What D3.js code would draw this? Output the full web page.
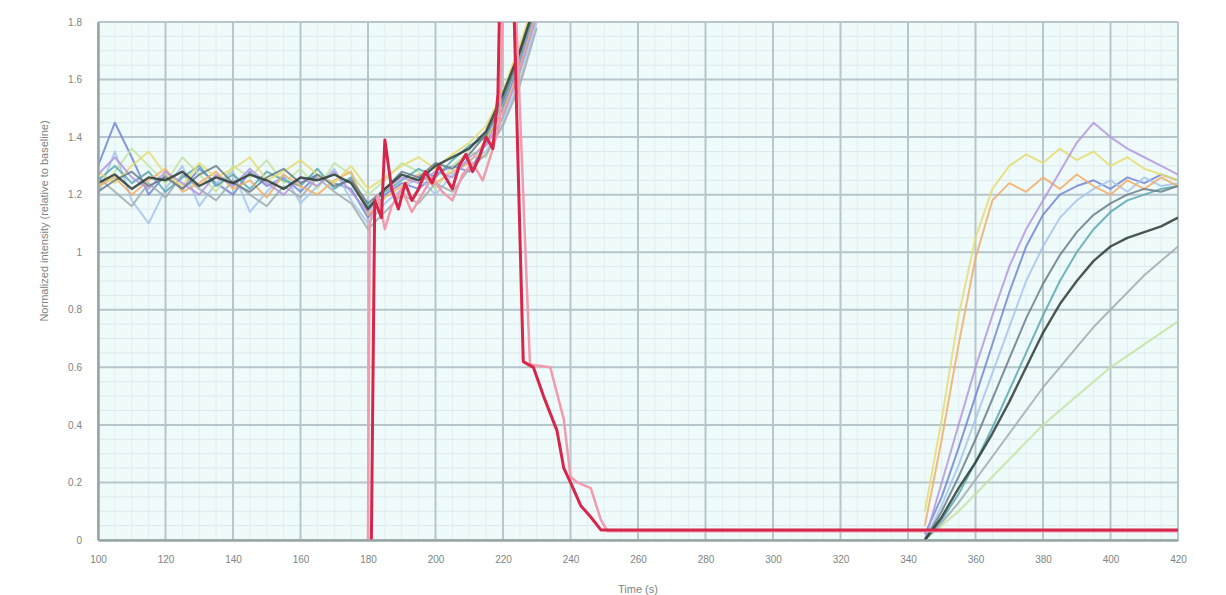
<!DOCTYPE html>
<html>
<head>
<meta charset="utf-8">
<script src="https://cdn.jsdelivr.net/npm/d3@7/dist/d3.min.js"></script>
<style>
  body { margin: 0; background: #ffffff; font-family: "Liberation Sans", Arial, sans-serif; }
  #chart svg { display: block; }
</style>
</head>
<body>
<div id="chart"></div>
<script>
// x tick labels (time axis)
const xTicks = [100, 120, 140, 160, 180, 200, 220, 240, 260, 280, 300, 320, 340, 360, 380, 400, 420];
const yTicks = [0, 0.2, 0.4, 0.6, 0.8, 1, 1.2, 1.4, 1.6, 1.8];

// sample times shared by the ten traces
const times = [100, 105, 110, 115, 120, 125, 130, 135, 140, 145, 150, 155, 160, 165, 170, 175,
  180, 185, 190, 195, 200, 205, 210, 215, 220, 225, 230, 235, 240, 245, 250, 255, 260, 265,
  270, 275, 280, 285, 290, 295, 300, 305, 310, 315, 320, 325, 330, 335, 340, 345, 350, 355,
  360, 365, 370, 375, 380, 385, 390, 395, 400, 405, 410, 415, 420];

// before the event (t = 100..230) and recovery (t = 345..420)
const s1Left  = [1.24, 1.27, 1.22, 1.26, 1.25, 1.28, 1.23, 1.26, 1.24, 1.27, 1.25, 1.22, 1.26, 1.25, 1.27, 1.24, 1.15, 1.22, 1.27, 1.25, 1.30, 1.33, 1.36, 1.42, 1.55, 1.70, 1.88];
const s1Right = [0.00, 0.08, 0.18, 0.27, 0.37, 0.48, 0.60, 0.72, 0.82, 0.90, 0.97, 1.02, 1.05, 1.07, 1.09, 1.12];
const s2Left  = [1.30, 1.45, 1.33, 1.20, 1.27, 1.22, 1.29, 1.24, 1.20, 1.28, 1.23, 1.26, 1.21, 1.27, 1.24, 1.22, 1.12, 1.20, 1.24, 1.22, 1.27, 1.30, 1.28, 1.38, 1.50, 1.66, 1.85];
const s2Right = [0.02, 0.15, 0.32, 0.50, 0.68, 0.86, 1.02, 1.13, 1.20, 1.23, 1.25, 1.22, 1.26, 1.24, 1.27, 1.25];
const s3Left  = [1.20, 1.35, 1.18, 1.10, 1.22, 1.30, 1.16, 1.24, 1.28, 1.14, 1.21, 1.27, 1.17, 1.23, 1.29, 1.18, 1.10, 1.17, 1.22, 1.26, 1.20, 1.27, 1.32, 1.35, 1.45, 1.60, 1.80];
const s3Right = [0.00, 0.12, 0.26, 0.42, 0.58, 0.74, 0.90, 1.02, 1.12, 1.18, 1.22, 1.25, 1.21, 1.26, 1.23, 1.24];
const s4Left  = [1.22, 1.28, 1.36, 1.30, 1.24, 1.33, 1.27, 1.21, 1.30, 1.26, 1.32, 1.24, 1.29, 1.22, 1.31, 1.27, 1.20, 1.25, 1.31, 1.28, 1.22, 1.30, 1.35, 1.33, 1.47, 1.62, 1.83];
const s4Right = [0.00, 0.05, 0.10, 0.16, 0.22, 0.28, 0.34, 0.40, 0.45, 0.50, 0.55, 0.60, 0.64, 0.68, 0.72, 0.76];
const s5Left  = [1.26, 1.21, 1.16, 1.24, 1.19, 1.27, 1.22, 1.18, 1.25, 1.20, 1.16, 1.23, 1.19, 1.26, 1.21, 1.17, 1.08, 1.14, 1.20, 1.17, 1.24, 1.21, 1.29, 1.34, 1.44, 1.58, 1.78];
const s5Right = [0.00, 0.06, 0.13, 0.21, 0.29, 0.37, 0.45, 0.53, 0.60, 0.67, 0.74, 0.80, 0.86, 0.92, 0.97, 1.02];
const s6Left  = [1.25, 1.30, 1.24, 1.28, 1.21, 1.26, 1.30, 1.23, 1.27, 1.22, 1.28, 1.25, 1.23, 1.29, 1.22, 1.26, 1.16, 1.21, 1.25, 1.29, 1.26, 1.32, 1.37, 1.40, 1.52, 1.68, 1.86];
const s6Right = [0.00, 0.07, 0.16, 0.27, 0.39, 0.52, 0.65, 0.78, 0.90, 1.00, 1.08, 1.14, 1.18, 1.20, 1.22, 1.23];
const s7Left  = [1.23, 1.26, 1.20, 1.25, 1.29, 1.21, 1.24, 1.28, 1.22, 1.25, 1.19, 1.27, 1.23, 1.20, 1.25, 1.28, 1.13, 1.19, 1.23, 1.27, 1.24, 1.28, 1.31, 1.39, 1.49, 1.64, 1.84];
const s7Right = [0.05, 0.35, 0.68, 0.98, 1.18, 1.24, 1.21, 1.26, 1.22, 1.27, 1.23, 1.20, 1.25, 1.22, 1.26, 1.23];
const s8Left  = [1.28, 1.24, 1.30, 1.35, 1.27, 1.23, 1.31, 1.26, 1.29, 1.33, 1.25, 1.28, 1.32, 1.27, 1.24, 1.30, 1.22, 1.26, 1.30, 1.33, 1.29, 1.34, 1.38, 1.44, 1.56, 1.72, 1.90];
const s8Right = [0.10, 0.42, 0.78, 1.05, 1.22, 1.30, 1.34, 1.31, 1.36, 1.32, 1.35, 1.30, 1.33, 1.29, 1.27, 1.25];
const s9Left  = [1.27, 1.33, 1.26, 1.22, 1.28, 1.24, 1.20, 1.27, 1.23, 1.29, 1.24, 1.20, 1.26, 1.23, 1.28, 1.21, 1.14, 1.22, 1.26, 1.24, 1.28, 1.26, 1.33, 1.37, 1.47, 1.63, 1.82];
const s9Right = [0.00, 0.20, 0.40, 0.60, 0.78, 0.95, 1.08, 1.18, 1.28, 1.38, 1.45, 1.40, 1.36, 1.33, 1.30, 1.27];
const s10Left  = [1.21, 1.25, 1.28, 1.23, 1.26, 1.22, 1.27, 1.30, 1.24, 1.21, 1.26, 1.29, 1.24, 1.27, 1.23, 1.25, 1.17, 1.22, 1.28, 1.26, 1.31, 1.29, 1.34, 1.41, 1.53, 1.69, 1.87];
const s10Right = [0.00, 0.10, 0.22, 0.35, 0.49, 0.63, 0.77, 0.89, 0.99, 1.07, 1.13, 1.17, 1.20, 1.22, 1.21, 1.23];

// the two reference traces (own time base)
const redT = [181, 182, 184, 185, 187, 189, 191, 193, 195, 197, 199, 201, 203, 205, 207, 209, 211, 213, 215, 217, 218.5, 220, 222, 226, 229, 232, 236, 238, 240, 243, 246, 249, 420];
const redV = [0, 1.18, 1.12, 1.39, 1.22, 1.15, 1.24, 1.18, 1.22, 1.28, 1.24, 1.30, 1.26, 1.22, 1.30, 1.34, 1.28, 1.33, 1.40, 1.36, 1.55, 2.5, 2.4, 0.62, 0.60, 0.50, 0.38, 0.25, 0.20, 0.12, 0.08, 0.035, 0.035];
const pinkT = [180, 180.5, 183, 185, 187, 190, 193, 196, 199, 202, 205, 208, 211, 214, 217, 219, 221, 224, 227, 228, 234, 238, 240, 242, 246, 249, 251, 420];
const pinkV = [0, 1.10, 1.20, 1.08, 1.16, 1.22, 1.14, 1.20, 1.26, 1.21, 1.18, 1.27, 1.31, 1.25, 1.36, 1.45, 2.3, 1.8, 0.9, 0.61, 0.60, 0.42, 0.22, 0.20, 0.18, 0.07, 0.03, 0.03];

const traceNames  = ["s1", "s2", "s3", "s4", "s5", "s6", "s7", "s8", "s9", "s10"];
const traceColors = ["#2c3b35", "#7486d4", "#a8c4ec", "#c4e2a0", "#a2abae", "#5aa8ae", "#f2ad68", "#e6dc72", "#b497dc", "#6a7d8a"];
const lefts  = [s1Left, s2Left, s3Left, s4Left, s5Left, s6Left, s7Left, s8Left, s9Left, s10Left];
const rights = [s1Right, s2Right, s3Right, s4Right, s5Right, s6Right, s7Right, s8Right, s9Right, s10Right];

// set the dimensions and margins of the graph
var margin = { top: 22, right: 48, bottom: 55, left: 98 },
  width = 1226 - margin.left - margin.right,
  height = 595 - margin.top - margin.bottom;

var svg = d3.select("#chart")
  .append("svg")
  .attr("width", 1226)
  .attr("height", 595)
  .append("g")
  .attr("transform", "translate(" + margin.left + "," + margin.top + ")");

var x = d3.scaleLinear().domain([100, 420]).range([0, width]);
var y = d3.scaleLinear().domain([0, 1.8]).range([height, 0]);

// plot background
svg.append("rect")
  .attr("width", width)
  .attr("height", height)
  .attr("fill", "#effbfb");

// minor grid
svg.append("g")
  .selectAll("line")
  .data(d3.range(0, 1.8, 0.05))
  .join("line")
  .attr("x1", 0).attr("x2", width)
  .attr("y1", d => y(d)).attr("y2", d => y(d))
  .attr("stroke", "#dbe8ec").attr("stroke-width", 1);
svg.append("g")
  .selectAll("line")
  .data(d3.range(100, 420, 5))
  .join("line")
  .attr("y1", 0).attr("y2", height)
  .attr("x1", d => x(d)).attr("x2", d => x(d))
  .attr("stroke", "#e2edf1").attr("stroke-width", 1);

// major grid
svg.append("g")
  .selectAll("line")
  .data(yTicks)
  .join("line")
  .attr("x1", 0).attr("x2", width)
  .attr("y1", d => y(d)).attr("y2", d => y(d))
  .attr("stroke", "#b6c6cb").attr("stroke-width", 2);
svg.append("g")
  .selectAll("line")
  .data(xTicks)
  .join("line")
  .attr("y1", 0).attr("y2", height)
  .attr("x1", d => x(d)).attr("x2", d => x(d))
  .attr("stroke", "#b6c6cb").attr("stroke-width", 2);

svg.append("clipPath")
  .attr("id", "clip")
  .append("rect")
  .attr("width", width)
  .attr("height", height);

var line = d3.line()
  .defined(d => d.v != null)
  .x(d => x(d.t))
  .y(d => y(d.v));

// build the ten traces from the two pieces
var traces = traceNames.map(function (name, k) {
  var pts = [];
  lefts[k].forEach(function (v, i) { pts.push({ t: times[i], v: v }); });
  pts.push({ t: times[lefts[k].length], v: null });
  rights[k].forEach(function (v, i) { pts.push({ t: times[49 + i], v: v }); });
  return { name: name, color: traceColors[k], points: pts };
});

var plot = svg.append("g").attr("clip-path", "url(#clip)");

// dark trace drawn last among the ten
plot.selectAll("path.trace")
  .data(traces.slice(1).concat([traces[0]]))
  .join("path")
  .attr("class", "trace")
  .attr("d", d => line(d.points))
  .attr("fill", "none")
  .attr("stroke", d => d.color)
  .attr("stroke-width", d => d.name === "s1" ? 2.4 : 2)
  .attr("stroke-opacity", 0.85)
  .attr("stroke-linejoin", "round");

plot.append("path")
  .attr("d", line(pinkT.map((t, i) => ({ t: t, v: pinkV[i] }))))
  .attr("fill", "none")
  .attr("stroke", "#f29aae")
  .attr("stroke-width", 2.5)
  .attr("stroke-linejoin", "round");

plot.append("path")
  .attr("d", line(redT.map((t, i) => ({ t: t, v: redV[i] }))))
  .attr("fill", "none")
  .attr("stroke", "#d8264a")
  .attr("stroke-width", 3)
  .attr("stroke-linejoin", "round");

// axes
var xAxis = svg.append("g")
  .attr("transform", "translate(0," + height + ")")
  .call(d3.axisBottom(x).tickValues(xTicks).tickSize(0).tickPadding(16));
var yAxis = svg.append("g")
  .call(d3.axisLeft(y).tickValues(yTicks).tickSize(0).tickPadding(16).tickFormat(d3.format("~g")));

[xAxis, yAxis].forEach(function (a) {
  a.select(".domain").attr("stroke", "#97a5a6").attr("stroke-width", 2.5);
  a.selectAll("text")
    .attr("fill", "#7c8584")
    .style("font-size", "10px")
    .style("font-family", "Liberation Sans, Arial, sans-serif");
});

svg.append("text")
  .attr("x", width / 2)
  .attr("y", height + 53)
  .attr("text-anchor", "middle")
  .attr("fill", "#7c8584")
  .style("font-size", "11px")
  .text("Time (s)");

svg.append("text")
  .attr("transform", "translate(" + (-50) + "," + (height / 2 - 60) + ") rotate(-90)")
  .attr("text-anchor", "middle")
  .attr("fill", "#7c8584")
  .style("font-size", "11px")
  .text("Normalized intensity (relative to baseline)");
</script>
</body>
</html>
